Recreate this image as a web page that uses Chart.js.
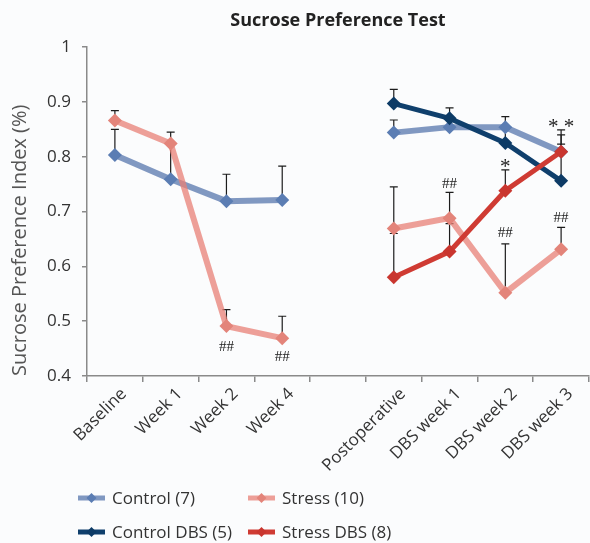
<!DOCTYPE html>
<html><head><meta charset="utf-8">
<script src="https://cdn.jsdelivr.net/npm/chart.js@4"></script>
<style>
html,body{margin:0;padding:0;background:#fbfcfd;overflow:hidden;}
#wrap{width:596px;height:543px;position:relative;}
</style></head><body>
<div id="wrap"><canvas id="c"></canvas></div>
<script>
const categories = ['Baseline','Week 1','Week 2','Week 4','','Postoperative','DBS week 1','DBS week 2','DBS week 3'];
const seriesNames = ['Control (7)','Stress (10)','Control DBS (5)','Stress DBS (8)'];
const controlValues    = [0.803,0.759,0.719,0.721,null,0.844,0.854,0.854,0.809];
const stressValues     = [0.866,0.824,0.491,0.469,null,0.669,0.688,0.552,0.631];
const controlDbsValues = [null,null,null,null,null,0.897,0.870,0.825,0.756];
const stressDbsValues  = [null,null,null,null,null,0.580,0.627,0.738,0.809];
const controlErrTop    = [0.850,0.825,0.768,0.783,null,0.867,0.868,0.873,0.849];
const stressErrTop     = [0.884,0.845,0.521,0.509,null,0.745,0.735,0.641,0.671];
const controlDbsErrTop = [null,null,null,null,null,0.923,0.889,0.850,0.823];
const stressDbsErrTop  = [null,null,null,null,null,0.660,0.678,0.776,0.840];
const yTicks = [0.4,0.5,0.6,0.7,0.8,0.9,1];
const annoText  = ['##','##','##','*','##','* *','##'];
const annoIndex = [2,3,6,7,7,8,8];
const annoValue = [0.453,0.435,0.751,0.790,0.661,0.862,0.688];

const values = [controlValues, stressValues, controlDbsValues, stressDbsValues];
const errTops = [controlErrTop, stressErrTop, controlDbsErrTop, stressDbsErrTop];
const lineColors = ['rgba(98,126,178,0.8)','rgba(232,128,118,0.75)','#0f3f6c','#cf3b33'];
const markColors = ['#5b7db3','#e3847a','#0d3b66','#c9362f'];
const lineWidths = [6,6,5,5];
const drawOrder = [3,2,1,0];

const FONT = "'Open Sans', 'DejaVu Sans', sans-serif";

const errPlugin = {
  id: 'errbars',
  beforeDatasetsDraw(chart) {
    const {ctx, scales:{x, y}} = chart;
    ctx.save();
    ctx.strokeStyle = '#1c1c1c';
    ctx.lineWidth = 1.2;
    errTops.forEach((tops, di) => {
      const vals = chart.data.datasets[di].data;
      tops.forEach((t, i) => {
        if (t == null || vals[i] == null) return;
        const px = x.getPixelForValue(i);
        const y0 = y.getPixelForValue(vals[i]);
        const y1 = y.getPixelForValue(t);
        ctx.beginPath();
        ctx.moveTo(px, y0); ctx.lineTo(px, y1);
        ctx.moveTo(px - 4, y1); ctx.lineTo(px + 4, y1);
        ctx.stroke();
      });
    });
    ctx.restore();
  }
};

const annoPlugin = {
  id: 'annos',
  afterDatasetsDraw(chart) {
    const {ctx, scales:{x, y}} = chart;
    ctx.save();
    ctx.fillStyle = '#222';
    ctx.textAlign = 'center';
    ctx.textBaseline = 'middle';
    annoText.forEach((t, k) => {
      const star = t.indexOf('*') >= 0;
      ctx.font = star ? "21px 'Liberation Serif', serif" : "15px 'Liberation Serif', serif";
      ctx.fillText(t, x.getPixelForValue(annoIndex[k]), y.getPixelForValue(annoValue[k]) + (star ? 5 : 0));
    });
    ctx.restore();
  }
};

const legendPlugin = {
  id: 'gridLegend',
  afterDraw(chart) {
    const {ctx} = chart;
    const colX = [78, 248];
    const rowY = [498, 532];
    ctx.save();
    chart.data.datasets.forEach((ds, i) => {
      const x0 = colX[i % 2], yy = rowY[Math.floor(i / 2)];
      ctx.strokeStyle = lineColors[i];
      ctx.lineWidth = 5;
      ctx.beginPath(); ctx.moveTo(x0, yy); ctx.lineTo(x0 + 27, yy); ctx.stroke();
      ctx.fillStyle = markColors[i];
      const cx = x0 + 13.5, r = 5;
      ctx.beginPath();
      ctx.moveTo(cx, yy - r); ctx.lineTo(cx + r, yy); ctx.lineTo(cx, yy + r); ctx.lineTo(cx - r, yy);
      ctx.closePath(); ctx.fill();
      ctx.fillStyle = '#333';
      ctx.font = '17px ' + FONT;
      ctx.textAlign = 'left';
      ctx.textBaseline = 'middle';
      ctx.fillText(ds.label, x0 + 34, yy + 1);
    });
    ctx.restore();
  }
};

new Chart(document.getElementById('c'), {
  type: 'line',
  data: {
    labels: categories,
    datasets: seriesNames.map((name, i) => ({
      label: name,
      data: values[i],
      borderColor: lineColors[i],
      backgroundColor: markColors[i],
      borderWidth: lineWidths[i],
      pointStyle: 'rectRot',
      pointRadius: 7,
      pointBorderWidth: 0,
      pointBackgroundColor: markColors[i],
      spanGaps: false,
      tension: 0,
      order: drawOrder[i]
    }))
  },
  options: {
    responsive: true,
    maintainAspectRatio: false,
    animation: false,
    devicePixelRatio: 1,
    layout: { padding: { left: 0, right: 0, top: 0, bottom: 62 } },
    plugins: {
      legend: { display: false },
      tooltip: { enabled: false },
      title: {
        display: true,
        fullSize: false,
        text: 'Sucrose Preference Test',
        color: '#222',
        font: { family: FONT, size: 18, weight: 'bold' },
        padding: { top: 10, bottom: 15.5 }
      }
    },
    scales: {
      x: {
        type: 'category',
        offset: true,
        grid: { offset: true, drawOnChartArea: false, drawTicks: true, tickLength: 6, color: '#8a8a8a', lineWidth: 1.5 },
        border: { color: '#8a8a8a', width: 1.5 },
        ticks: { autoSkip: false, minRotation: 45, maxRotation: 45, labelOffset: 9, color: '#333', font: { family: FONT, size: 17 }, padding: 2 },
        afterFit(scale) { scale.height = 105; }
      },
      y: {
        min: 0.4, max: 1,
        afterBuildTicks(scale) { scale.ticks = yTicks.map(v => ({ value: v })); },
        grid: { drawOnChartArea: false, drawTicks: true, tickLength: 5, color: '#8a8a8a', lineWidth: 1.5 },
        border: { color: '#8a8a8a', width: 1.5 },
        ticks: { color: '#333', font: { family: FONT, size: 17 }, padding: 11,
                 callback: v => String(+Number(v).toFixed(1)) },
        title: { display: true, align: 'start', text: 'Sucrose Preference Index (%)', color: '#555', font: { family: FONT, size: 20 }, padding: { top: 8, bottom: 0 } },
        afterFit(scale) { scale.width = 87; }
      }
    }
  },
  plugins: [errPlugin, annoPlugin, legendPlugin]
});
</script>
</body></html>
